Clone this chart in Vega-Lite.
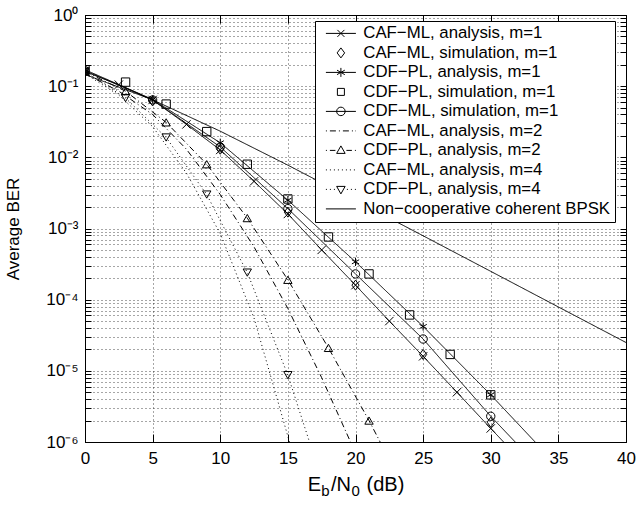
{
  "$schema": "https://vega.github.io/schema/vega-lite/v6.json",
  "width": 541,
  "height": 427,
  "autosize": "none",
  "padding": {"left": 85, "top": 15, "right": 10, "bottom": 63},
  "background": "white",
  "config": {"font": "Liberation Sans", "view": {"stroke": "black", "strokeWidth": 1}},
  "title": {"text": "b\u2003\u2005\u20090", "orient": "bottom", "anchor": "middle", "frame": "group", "fontSize": 15, "fontWeight": "normal", "color": "black", "font": "Liberation Sans", "dx": -15, "dy": -10, "offset": 0},
  "datasets": {
    "curves": [
      {"series": "CAF−ML, analysis, m=1", "ebn0": 0, "ber": 0.16},
      {"series": "CAF−ML, analysis, m=1", "ebn0": 2.5, "ber": 0.105},
      {"series": "CAF−ML, analysis, m=1", "ebn0": 5, "ber": 0.064},
      {"series": "CAF−ML, analysis, m=1", "ebn0": 7.5, "ber": 0.029},
      {"series": "CAF−ML, analysis, m=1", "ebn0": 10, "ber": 0.0127},
      {"series": "CAF−ML, analysis, m=1", "ebn0": 12.5, "ber": 0.0046},
      {"series": "CAF−ML, analysis, m=1", "ebn0": 15, "ber": 0.0016},
      {"series": "CAF−ML, analysis, m=1", "ebn0": 17.5, "ber": 0.0005},
      {"series": "CAF−ML, analysis, m=1", "ebn0": 20, "ber": 0.00016},
      {"series": "CAF−ML, analysis, m=1", "ebn0": 22.5, "ber": 0.00005},
      {"series": "CAF−ML, analysis, m=1", "ebn0": 25, "ber": 0.000016},
      {"series": "CAF−ML, analysis, m=1", "ebn0": 27.5, "ber": 0.000005},
      {"series": "CAF−ML, analysis, m=1", "ebn0": 30, "ber": 0.00000155},
      {"series": "CAF−ML, analysis, m=1", "ebn0": 32.5, "ber": 0.00000049},
      {"series": "CDF−PL, analysis, m=1", "ebn0": 0, "ber": 0.17},
      {"series": "CDF−PL, analysis, m=1", "ebn0": 5, "ber": 0.065},
      {"series": "CDF−PL, analysis, m=1", "ebn0": 10, "ber": 0.016},
      {"series": "CDF−PL, analysis, m=1", "ebn0": 15, "ber": 0.0025},
      {"series": "CDF−PL, analysis, m=1", "ebn0": 20, "ber": 0.00034},
      {"series": "CDF−PL, analysis, m=1", "ebn0": 25, "ber": 0.000042},
      {"series": "CDF−PL, analysis, m=1", "ebn0": 30, "ber": 0.0000046},
      {"series": "CDF−PL, analysis, m=1", "ebn0": 35, "ber": 0.00000045},
      {"series": "CDF−ML, simulation, m=1", "ebn0": 0, "ber": 0.165},
      {"series": "CDF−ML, simulation, m=1", "ebn0": 5, "ber": 0.064},
      {"series": "CDF−ML, simulation, m=1", "ebn0": 10, "ber": 0.014},
      {"series": "CDF−ML, simulation, m=1", "ebn0": 15, "ber": 0.0019},
      {"series": "CDF−ML, simulation, m=1", "ebn0": 20, "ber": 0.00023},
      {"series": "CDF−ML, simulation, m=1", "ebn0": 25, "ber": 0.000028},
      {"series": "CDF−ML, simulation, m=1", "ebn0": 30, "ber": 0.0000023},
      {"series": "CDF−ML, simulation, m=1", "ebn0": 35, "ber": 0.00000023},
      {"series": "CAF−ML, analysis, m=2", "ebn0": 0, "ber": 0.15},
      {"series": "CAF−ML, analysis, m=2", "ebn0": 2.5, "ber": 0.085},
      {"series": "CAF−ML, analysis, m=2", "ebn0": 5, "ber": 0.04},
      {"series": "CAF−ML, analysis, m=2", "ebn0": 7.5, "ber": 0.013},
      {"series": "CAF−ML, analysis, m=2", "ebn0": 10, "ber": 0.003},
      {"series": "CAF−ML, analysis, m=2", "ebn0": 12.5, "ber": 0.00055},
      {"series": "CAF−ML, analysis, m=2", "ebn0": 15, "ber": 0.000075},
      {"series": "CAF−ML, analysis, m=2", "ebn0": 17.5, "ber": 0.000008},
      {"series": "CAF−ML, analysis, m=2", "ebn0": 20, "ber": 0.0000007},
      {"series": "CDF−PL, analysis, m=2", "ebn0": 0, "ber": 0.16},
      {"series": "CDF−PL, analysis, m=2", "ebn0": 3, "ber": 0.085},
      {"series": "CDF−PL, analysis, m=2", "ebn0": 6, "ber": 0.031},
      {"series": "CDF−PL, analysis, m=2", "ebn0": 9, "ber": 0.008},
      {"series": "CDF−PL, analysis, m=2", "ebn0": 12, "ber": 0.0014},
      {"series": "CDF−PL, analysis, m=2", "ebn0": 15, "ber": 0.00019},
      {"series": "CDF−PL, analysis, m=2", "ebn0": 18, "ber": 0.000021},
      {"series": "CDF−PL, analysis, m=2", "ebn0": 21, "ber": 0.000002},
      {"series": "CDF−PL, analysis, m=2", "ebn0": 24, "ber": 0.00000016},
      {"series": "CAF−ML, analysis, m=4", "ebn0": 0, "ber": 0.15},
      {"series": "CAF−ML, analysis, m=4", "ebn0": 2.5, "ber": 0.075},
      {"series": "CAF−ML, analysis, m=4", "ebn0": 5, "ber": 0.027},
      {"series": "CAF−ML, analysis, m=4", "ebn0": 7.5, "ber": 0.006},
      {"series": "CAF−ML, analysis, m=4", "ebn0": 10, "ber": 0.00085},
      {"series": "CAF−ML, analysis, m=4", "ebn0": 12.5, "ber": 0.000055},
      {"series": "CAF−ML, analysis, m=4", "ebn0": 15, "ber": 0.0000012},
      {"series": "CAF−ML, analysis, m=4", "ebn0": 17.5, "ber": 0.00000002},
      {"series": "CDF−PL, analysis, m=4", "ebn0": 0, "ber": 0.16},
      {"series": "CDF−PL, analysis, m=4", "ebn0": 3, "ber": 0.068},
      {"series": "CDF−PL, analysis, m=4", "ebn0": 6, "ber": 0.019},
      {"series": "CDF−PL, analysis, m=4", "ebn0": 9, "ber": 0.003},
      {"series": "CDF−PL, analysis, m=4", "ebn0": 12, "ber": 0.00024},
      {"series": "CDF−PL, analysis, m=4", "ebn0": 15, "ber": 0.0000087},
      {"series": "CDF−PL, analysis, m=4", "ebn0": 18, "ber": 0.00000015},
      {"series": "Non−cooperative coherent BPSK", "ebn0": 0, "ber": 0.146},
      {"series": "Non−cooperative coherent BPSK", "ebn0": 5, "ber": 0.0643},
      {"series": "Non−cooperative coherent BPSK", "ebn0": 10, "ber": 0.0233},
      {"series": "Non−cooperative coherent BPSK", "ebn0": 15, "ber": 0.00776},
      {"series": "Non−cooperative coherent BPSK", "ebn0": 20, "ber": 0.00248},
      {"series": "Non−cooperative coherent BPSK", "ebn0": 25, "ber": 0.00079},
      {"series": "Non−cooperative coherent BPSK", "ebn0": 30, "ber": 0.00025},
      {"series": "Non−cooperative coherent BPSK", "ebn0": 35, "ber": 0.000079},
      {"series": "Non−cooperative coherent BPSK", "ebn0": 40, "ber": 0.000025}
    ],
    "markers": [
      {"series": "CAF−ML, analysis, m=1", "ebn0": 0, "ber": 0.16},
      {"series": "CAF−ML, analysis, m=1", "ebn0": 2.5, "ber": 0.105},
      {"series": "CAF−ML, analysis, m=1", "ebn0": 5, "ber": 0.064},
      {"series": "CAF−ML, analysis, m=1", "ebn0": 7.5, "ber": 0.029},
      {"series": "CAF−ML, analysis, m=1", "ebn0": 10, "ber": 0.0127},
      {"series": "CAF−ML, analysis, m=1", "ebn0": 12.5, "ber": 0.0046},
      {"series": "CAF−ML, analysis, m=1", "ebn0": 15, "ber": 0.0016},
      {"series": "CAF−ML, analysis, m=1", "ebn0": 17.5, "ber": 0.0005},
      {"series": "CAF−ML, analysis, m=1", "ebn0": 20, "ber": 0.00016},
      {"series": "CAF−ML, analysis, m=1", "ebn0": 22.5, "ber": 0.00005},
      {"series": "CAF−ML, analysis, m=1", "ebn0": 25, "ber": 0.000016},
      {"series": "CAF−ML, analysis, m=1", "ebn0": 27.5, "ber": 0.000005},
      {"series": "CAF−ML, analysis, m=1", "ebn0": 30, "ber": 0.00000155},
      {"series": "CAF−ML, simulation, m=1", "ebn0": 0, "ber": 0.16},
      {"series": "CAF−ML, simulation, m=1", "ebn0": 5, "ber": 0.062},
      {"series": "CAF−ML, simulation, m=1", "ebn0": 10, "ber": 0.013},
      {"series": "CAF−ML, simulation, m=1", "ebn0": 15, "ber": 0.0017},
      {"series": "CAF−ML, simulation, m=1", "ebn0": 20, "ber": 0.00016},
      {"series": "CAF−ML, simulation, m=1", "ebn0": 25, "ber": 0.000017},
      {"series": "CAF−ML, simulation, m=1", "ebn0": 30, "ber": 0.0000019},
      {"series": "CDF−PL, analysis, m=1", "ebn0": 0, "ber": 0.17},
      {"series": "CDF−PL, analysis, m=1", "ebn0": 5, "ber": 0.065},
      {"series": "CDF−PL, analysis, m=1", "ebn0": 10, "ber": 0.016},
      {"series": "CDF−PL, analysis, m=1", "ebn0": 15, "ber": 0.0025},
      {"series": "CDF−PL, analysis, m=1", "ebn0": 20, "ber": 0.00034},
      {"series": "CDF−PL, analysis, m=1", "ebn0": 25, "ber": 0.000042},
      {"series": "CDF−PL, analysis, m=1", "ebn0": 30, "ber": 0.0000046},
      {"series": "CDF−PL, simulation, m=1", "ebn0": 0, "ber": 0.17},
      {"series": "CDF−PL, simulation, m=1", "ebn0": 3, "ber": 0.114},
      {"series": "CDF−PL, simulation, m=1", "ebn0": 6, "ber": 0.056},
      {"series": "CDF−PL, simulation, m=1", "ebn0": 9, "ber": 0.023},
      {"series": "CDF−PL, simulation, m=1", "ebn0": 12, "ber": 0.008},
      {"series": "CDF−PL, simulation, m=1", "ebn0": 15, "ber": 0.0026},
      {"series": "CDF−PL, simulation, m=1", "ebn0": 18, "ber": 0.00076},
      {"series": "CDF−PL, simulation, m=1", "ebn0": 21, "ber": 0.00023},
      {"series": "CDF−PL, simulation, m=1", "ebn0": 24, "ber": 0.000061},
      {"series": "CDF−PL, simulation, m=1", "ebn0": 27, "ber": 0.000017},
      {"series": "CDF−PL, simulation, m=1", "ebn0": 30, "ber": 0.0000046},
      {"series": "CDF−ML, simulation, m=1", "ebn0": 0, "ber": 0.165},
      {"series": "CDF−ML, simulation, m=1", "ebn0": 5, "ber": 0.064},
      {"series": "CDF−ML, simulation, m=1", "ebn0": 10, "ber": 0.014},
      {"series": "CDF−ML, simulation, m=1", "ebn0": 15, "ber": 0.0019},
      {"series": "CDF−ML, simulation, m=1", "ebn0": 20, "ber": 0.00023},
      {"series": "CDF−ML, simulation, m=1", "ebn0": 25, "ber": 0.000028},
      {"series": "CDF−ML, simulation, m=1", "ebn0": 30, "ber": 0.0000023},
      {"series": "CDF−PL, analysis, m=2", "ebn0": 0, "ber": 0.16},
      {"series": "CDF−PL, analysis, m=2", "ebn0": 3, "ber": 0.085},
      {"series": "CDF−PL, analysis, m=2", "ebn0": 6, "ber": 0.031},
      {"series": "CDF−PL, analysis, m=2", "ebn0": 9, "ber": 0.008},
      {"series": "CDF−PL, analysis, m=2", "ebn0": 12, "ber": 0.0014},
      {"series": "CDF−PL, analysis, m=2", "ebn0": 15, "ber": 0.00019},
      {"series": "CDF−PL, analysis, m=2", "ebn0": 18, "ber": 0.000021},
      {"series": "CDF−PL, analysis, m=2", "ebn0": 21, "ber": 0.000002},
      {"series": "CDF−PL, analysis, m=4", "ebn0": 0, "ber": 0.16},
      {"series": "CDF−PL, analysis, m=4", "ebn0": 3, "ber": 0.068},
      {"series": "CDF−PL, analysis, m=4", "ebn0": 6, "ber": 0.019},
      {"series": "CDF−PL, analysis, m=4", "ebn0": 9, "ber": 0.003},
      {"series": "CDF−PL, analysis, m=4", "ebn0": 12, "ber": 0.00024},
      {"series": "CDF−PL, analysis, m=4", "ebn0": 15, "ber": 0.0000087}
    ]
  },
  "layer": [
    {
      "data": {"name": "curves"},
      "mark": {"type": "line", "strokeWidth": 1, "clip": true, "color": "black"},
      "encoding": {
        "x": {"field": "ebn0", "type": "quantitative", "scale": {"domain": [0, 40], "nice": false},
          "axis": {"orient": "bottom", "values": [0, 5, 10, 15, 20, 25, 30, 35, 40], "grid": true, "gridDash": [1, 3], "gridColor": "black", "gridOpacity": 0.7, "gridWidth": 1, "domain": true, "domainColor": "black", "ticks": true, "tickSize": -8, "tickColor": "black", "labelFontSize": 17, "labelColor": "black", "labelPadding": 16, "labelFlush": false, "labelOverlap": false, "title": "E\u2002/N\u2002 (dB)", "titleFontSize": 20, "titleFontWeight": "normal", "titleColor": "black", "titlePadding": 8}},
        "y": {"field": "ber", "type": "quantitative", "scale": {"type": "log", "domain": [1e-6, 1], "nice": false},
          "axis": {"orient": "left", "values": [1e-6, 2e-6, 3e-6, 4e-6, 5e-6, 6e-6, 7e-6, 8e-6, 9e-6, 1e-5, 2e-5, 3e-5, 4e-5, 5e-5, 6e-5, 7e-5, 8e-5, 9e-5, 1e-4, 2e-4, 3e-4, 4e-4, 5e-4, 6e-4, 7e-4, 8e-4, 9e-4, 0.001, 0.002, 0.003, 0.004, 0.005, 0.006, 0.007, 0.008, 0.009, 0.01, 0.02, 0.03, 0.04, 0.05, 0.06, 0.07, 0.08, 0.09, 0.1, 0.2, 0.3, 0.4, 0.5, 0.6, 0.7, 0.8, 0.9, 1],
            "grid": true, "gridDash": [1, 3], "gridColor": "black", "gridOpacity": 0.7, "gridWidth": 1, "domain": true, "domainColor": "black", "ticks": true, "tickSize": -6, "tickColor": "black",
            "labelExpr": "abs(datum.value/pow(10, round(log(datum.value)/LN10)) - 1) < 0.01 ? '10' + ['⁰','⁻¹','⁻²','⁻³','⁻⁴','⁻⁵','⁻⁶'][-round(log(datum.value)/LN10)] : ''",
            "labelFontSize": 17, "labelColor": "black", "labelPadding": 13, "labelOverlap": false, "labelFlush": false,
            "title": "Average BER", "titleFontSize": 17, "titleFontWeight": "normal", "titleColor": "black", "titlePadding": 23}},
        "detail": {"field": "series", "type": "nominal"},
        "strokeDash": {"field": "series", "type": "nominal",
          "scale": {"domain": ["CAF−ML, analysis, m=1", "CDF−PL, analysis, m=1", "CDF−ML, simulation, m=1", "CAF−ML, analysis, m=2", "CDF−PL, analysis, m=2", "CAF−ML, analysis, m=4", "CDF−PL, analysis, m=4", "Non−cooperative coherent BPSK"],
            "range": [[1, 0], [1, 0], [1, 0], [6, 3, 1, 3], [6, 3, 1, 3], [1, 3], [1, 3], [1, 0]]},
          "legend": null}
      }
    },
    {
      "data": {"name": "markers"},
      "mark": {"type": "point", "filled": false, "strokeWidth": 1, "size": 70, "clip": true, "opacity": 1, "color": "black"},
      "encoding": {
        "x": {"field": "ebn0", "type": "quantitative", "scale": {"domain": [0, 40], "nice": false},
          "axis": {"orient": "top", "values": [0, 5, 10, 15, 20, 25, 30, 35, 40], "grid": false, "labels": false, "domain": false, "ticks": true, "tickSize": -8, "tickColor": "black", "title": null}},
        "y": {"field": "ber", "type": "quantitative", "scale": {"type": "log", "domain": [1e-6, 1], "nice": false},
          "axis": {"orient": "right", "values": [1e-6, 2e-6, 3e-6, 4e-6, 5e-6, 6e-6, 7e-6, 8e-6, 9e-6, 1e-5, 2e-5, 3e-5, 4e-5, 5e-5, 6e-5, 7e-5, 8e-5, 9e-5, 1e-4, 2e-4, 3e-4, 4e-4, 5e-4, 6e-4, 7e-4, 8e-4, 9e-4, 0.001, 0.002, 0.003, 0.004, 0.005, 0.006, 0.007, 0.008, 0.009, 0.01, 0.02, 0.03, 0.04, 0.05, 0.06, 0.07, 0.08, 0.09, 0.1, 0.2, 0.3, 0.4, 0.5, 0.6, 0.7, 0.8, 0.9, 1],
            "grid": false, "labels": false, "domain": false, "ticks": true, "tickSize": -6, "tickColor": "black", "title": null}},
        "shape": {"field": "series", "type": "nominal",
          "scale": {"domain": ["CAF−ML, analysis, m=1", "CAF−ML, simulation, m=1", "CDF−PL, analysis, m=1", "CDF−PL, simulation, m=1", "CDF−ML, simulation, m=1", "CDF−PL, analysis, m=2", "CDF−PL, analysis, m=4"],
            "range": ["M-1,-1L1,1M-1,1L1,-1", "M0,-1.2L0.85,0L0,1.2L-0.85,0Z", "M0,-1V1M-0.87,-0.5L0.87,0.5M-0.87,0.5L0.87,-0.5", "square", "circle", "triangle-up", "triangle-down"]},
          "legend": null}
      }
    },
    {
      "data": {"name": "curves"},
      "mark": {"type": "point", "filled": false, "strokeWidth": 1, "size": 100, "clip": true, "opacity": 0, "color": "black"},
      "encoding": {
        "x": {"field": "ebn0", "type": "quantitative", "axis": null},
        "y": {"field": "ber", "type": "quantitative", "axis": null},
        "shape": {"field": "series", "type": "nominal",
          "scale": {"domain": ["CAF−ML, analysis, m=1", "CAF−ML, simulation, m=1", "CDF−PL, analysis, m=1", "CDF−PL, simulation, m=1", "CDF−ML, simulation, m=1", "CAF−ML, analysis, m=2", "CDF−PL, analysis, m=2", "CAF−ML, analysis, m=4", "CDF−PL, analysis, m=4", "Non−cooperative coherent BPSK"],
            "range": ["M-3,0H3M-0.7,-0.7L0.7,0.7M-0.7,0.7L0.7,-0.7", "M0,-1L0.75,0L0,1L-0.75,0Z", "M-3,0H3M0,-0.9V0.9M-0.78,-0.45L0.78,0.45M-0.78,0.45L0.78,-0.45", "M-0.7,-0.7H0.7V0.7H-0.7Z", "M-3,0H3M-0.85,0A0.85,0.85,0,1,0,0.85,0A0.85,0.85,0,1,0,-0.85,0", "M-3,0H-2.8M-2.2,0H-1M-0.4,0H-0.2M0.4,0H1.6M2.2,0H2.4M2.9,0H3", "M-3,0H-2.8M-2.2,0H-1.1M0,-0.9L0.85,0.6H-0.85ZM1.1,0H2.2M2.8,0H3", "M-3,0H-2.8M-2.2,0H-2M-1.4,0H-1.2M-0.6,0H-0.4M0.2,0H0.4M1,0H1.2M1.8,0H2M2.6,0H2.8", "M-3,0H-2.8M-2.2,0H-2M-1.4,0H-1.2M0,0.9L0.85,-0.6H-0.85ZM1.2,0H1.4M2,0H2.2M2.8,0H3", "M-3,0H3"]},
          "legend": {"title": null, "orient": "none", "legendX": 230, "legendY": 6, "direction": "vertical", "padding": 4, "symbolOffset": 13.5, "labelOffset": 14, "rowPadding": 1.5, "labelFontSize": 16.8, "labelColor": "black", "labelFont": "Liberation Sans", "labelLimit": 400, "symbolSize": 100, "symbolOpacity": 1, "symbolStrokeWidth": 1, "symbolStrokeColor": "black", "symbolFillColor": "transparent", "strokeColor": "black", "fillColor": "white"}}
      }
    }
  ],
  "resolve": {"axis": {"x": "independent", "y": "independent"}, "scale": {"shape": "independent"}}
}
